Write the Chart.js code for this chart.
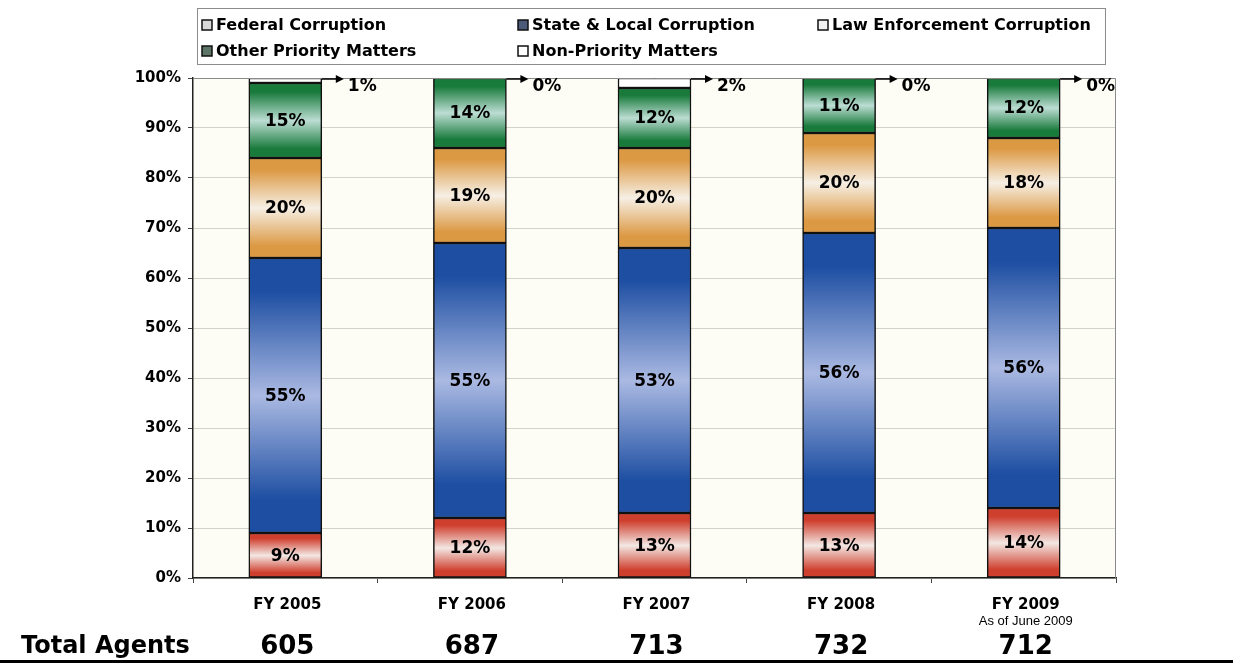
<!DOCTYPE html>
<html>
<head>
<meta charset="utf-8">
<script src="https://cdn.jsdelivr.net/npm/chart.js@4"></script>
<style>
  html, body { margin: 0; padding: 0; background: #fff; }
  #wrap { width: 1233px; height: 665px; position: relative; }
</style>
</head>
<body>
<div id="wrap"><canvas id="chart" width="1233" height="665"></canvas></div>
<script>
// ---- данные: доля агентов по направлениям, % ----
const YEARS      = ["FY 2005", "FY 2006", "FY 2007", "FY 2008", "FY 2009"];
const YEAR_NOTES = ["", "", "", "", "As of June 2009"];
const FEDERAL    = [9, 12, 13, 13, 14];
const STATE_LOC  = [55, 55, 53, 56, 56];
const LAW_ENF    = [20, 19, 20, 20, 18];
const OTHER_PRI  = [15, 14, 12, 11, 12];
const NON_PRI    = [1, 0, 2, 0, 0];
const TOTAL_AGENTS = [605, 687, 713, 732, 712];
const Y_TICKS = [0, 10, 20, 30, 40, 50, 60, 70, 80, 90, 100];

const FONT = "'DejaVu Sans', Verdana, sans-serif";
const FONT_NOTE = "'Liberation Sans', Arial, sans-serif";

// края и середина вертикального градиента у каждого сегмента
const SERIES = [
  { label: "Federal Corruption",         data: FEDERAL,   edge: "#cf3f2e", mid: "#f3e7e3", mark: "#d8d8d8" },
  { label: "State & Local Corruption",   data: STATE_LOC, edge: "#1d4ea2", mid: "#aab9e2", mark: "#4a5a78" },
  { label: "Law Enforcement Corruption", data: LAW_ENF,   edge: "#dc9944", mid: "#f6efe4", mark: "#f2f2f2" },
  { label: "Other Priority Matters",     data: OTHER_PRI, edge: "#187a3b", mid: "#bcddd3", mark: "#5d7566" },
  { label: "Non-Priority Matters",       data: NON_PRI,   edge: "#ffffff", mid: "#ffffff", mark: "#ffffff" }
];

// градиент сверху вниз по сегменту: тёмный край — светлая середина — тёмный край
function segmentFill(c) {
  const s = SERIES[c.datasetIndex];
  const chart = c.chart;
  if (!chart.chartArea || c.type !== "data") return s.edge;
  let base = 0;
  for (let k = 0; k < c.datasetIndex; k++) base += SERIES[k].data[c.dataIndex];
  const top = base + s.data[c.dataIndex];
  const y = chart.scales.y;
  const y0 = y.getPixelForValue(top), y1 = y.getPixelForValue(base);
  if (y1 - y0 < 1) return s.edge;
  const g = chart.ctx.createLinearGradient(0, y0, 0, y1);
  g.addColorStop(0, s.edge);
  g.addColorStop(0.12, s.edge);
  g.addColorStop(0.5, s.mid);
  g.addColorStop(0.88, s.edge);
  g.addColorStop(1, s.edge);
  return g;
}

const PLOT_L = 193, PLOT_R = 1116, PLOT_T = 78, PLOT_B = 578;

// фон области графика и рамка
const plotFrame = {
  id: "plotFrame",
  beforeDraw(chart) {
    const { ctx, chartArea: a } = chart;
    ctx.save();
    ctx.fillStyle = "#fdfdf5";
    ctx.fillRect(a.left, a.top, a.right - a.left, a.bottom - a.top);
    ctx.restore();
  },
  afterDatasetsDraw(chart) {
    const { ctx, chartArea: a } = chart;
    ctx.save();
    ctx.strokeStyle = "#8a8a8a";
    ctx.lineWidth = 1;
    ctx.beginPath();
    ctx.moveTo(a.left, a.top + 0.5);
    ctx.lineTo(a.right - 0.5, a.top + 0.5);
    ctx.lineTo(a.right - 0.5, a.bottom);
    ctx.stroke();
    ctx.restore();
  }
};

// подписи процентов в сегментах и стрелки к верхним сегментам
const segLabels = {
  id: "segLabels",
  afterDatasetsDraw(chart) {
    const { ctx } = chart;
    ctx.save();
    ctx.fillStyle = "#000";
    ctx.font = "bold 17px " + FONT;
    ctx.textAlign = "center";
    ctx.textBaseline = "middle";
    for (let d = 0; d < 4; d++) {
      chart.getDatasetMeta(d).data.forEach((bar, i) => {
        ctx.fillText(SERIES[d].data[i] + "%", bar.x, (bar.y + bar.base) / 2 + 1);
      });
    }
    // Non-Priority: стрелка вправо от верха столбика
    chart.getDatasetMeta(4).data.forEach((bar, i) => {
      const x0 = bar.x + bar.width / 2, y0 = bar.y + 1;
      const x1 = x0 + 22;
      ctx.strokeStyle = "#000";
      ctx.lineWidth = 1.5;
      ctx.beginPath();
      ctx.moveTo(x0, y0);
      ctx.lineTo(x1 - 6, y0);
      ctx.stroke();
      ctx.beginPath();
      ctx.moveTo(x1, y0);
      ctx.lineTo(x1 - 8, y0 - 4);
      ctx.lineTo(x1 - 8, y0 + 4);
      ctx.closePath();
      ctx.fill();
      ctx.textAlign = "left";
      ctx.fillText(NON_PRI[i] + "%", x1 + 4, y0 + 8);
    });
    ctx.restore();
  }
};

// легенда в рамке, подписи лет и строка «Total Agents»
const extras = {
  id: "extras",
  afterDraw(chart) {
    const { ctx } = chart;
    const x = chart.scales.x;
    ctx.save();

    ctx.strokeStyle = "#8c8c8c";
    ctx.lineWidth = 1;
    ctx.strokeRect(197.5, 8.5, 908, 56);
    const cols = [207, 523, 823], rows = [25, 51];
    ctx.font = "bold 16px " + FONT;
    ctx.textBaseline = "middle";
    ctx.textAlign = "left";
    SERIES.forEach((s, k) => {
      const mx = cols[k % 3], my = rows[Math.floor(k / 3)];
      ctx.fillStyle = s.mark;
      ctx.fillRect(mx - 5, my - 5, 10, 10);
      ctx.strokeStyle = "#111";
      ctx.lineWidth = 1.5;
      ctx.strokeRect(mx - 5, my - 5, 10, 10);
      ctx.fillStyle = "#000";
      ctx.fillText(s.label, mx + 9, my + 1);
    });

    ctx.textAlign = "center";
    YEARS.forEach((yr, i) => {
      const cx = x.getPixelForValue(i) + 2;
      ctx.fillStyle = "#000";
      ctx.font = "bold 15px " + FONT;
      ctx.fillText(yr, cx, 605);
      if (YEAR_NOTES[i]) {
        ctx.font = "13px " + FONT_NOTE;
        ctx.fillText(YEAR_NOTES[i], cx, 621);
      }
      ctx.font = "bold 26px " + FONT;
      ctx.fillText(String(TOTAL_AGENTS[i]), cx, 647);
    });

    ctx.textAlign = "left";
    ctx.font = "bold 24px " + FONT;
    ctx.fillText("Total Agents", 21, 647);

    ctx.fillStyle = "#000";
    ctx.fillRect(0, 660, 1233, 3);
    ctx.restore();
  }
};

new Chart(document.getElementById("chart"), {
  type: "bar",
  data: {
    labels: YEARS,
    datasets: SERIES.map(s => ({
      label: s.label,
      data: s.data,
      backgroundColor: segmentFill,
      borderColor: "#111",
      borderWidth: 1.5,
      borderSkipped: false,
      barThickness: 73
    }))
  },
  options: {
    responsive: false,
    animation: false,
    layout: { padding: { left: 0, right: 1233 - PLOT_R, top: PLOT_T, bottom: 0 } },
    plugins: { legend: { display: false }, tooltip: { enabled: false } },
    scales: {
      x: {
        stacked: true,
        offset: true,
        grid: { display: true, drawOnChartArea: false, offset: true, tickLength: 5, color: "#444" },
        border: { color: "#222", width: 1.5 },
        ticks: { display: false },
        afterFit: s => { s.height = 665 - PLOT_B; }
      },
      y: {
        stacked: true,
        min: 0, max: 100,
        afterBuildTicks: s => { s.ticks = Y_TICKS.map(v => ({ value: v })); },
        grid: { color: "#d2d4c8", lineWidth: 1, tickLength: 5, tickColor: "#444" },
        border: { color: "#222", width: 1.5 },
        ticks: {
          color: "#000",
          padding: 7,
          font: { family: FONT, size: 15, weight: "bold" },
          callback: v => v + "%"
        },
        afterFit: s => { s.width = PLOT_L; }
      }
    }
  },
  plugins: [plotFrame, segLabels, extras]
});
</script>
</body>
</html>
